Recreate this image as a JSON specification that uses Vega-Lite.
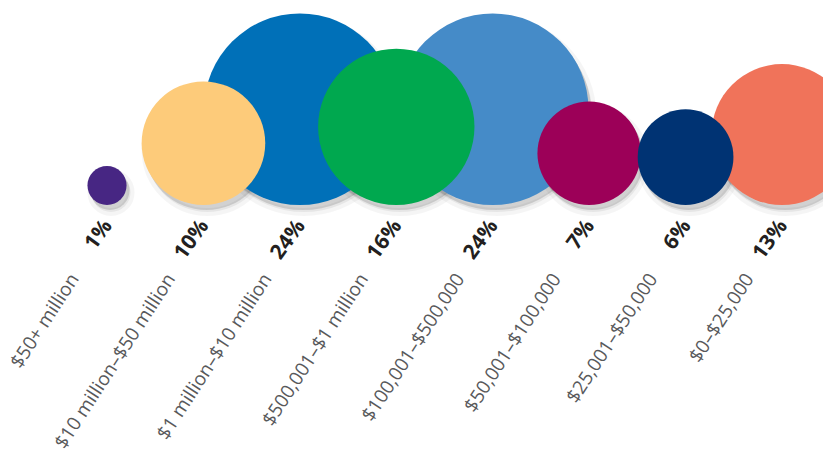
{
  "$schema": "https://vega.github.io/schema/vega-lite/v6.json",
  "width": 823,
  "height": 205,
  "autosize": {"type": "none"},
  "padding": {"left": 0, "top": 0, "right": 0, "bottom": 269},
  "background": "white",
  "config": {"view": {"stroke": null}},
  "data": {
    "values": [
      {"bracket": "$50+ million", "share": 0.01},
      {"bracket": "$10 million–$50 million", "share": 0.10},
      {"bracket": "$1 million–$10 million", "share": 0.24},
      {"bracket": "$500,001–$1 million", "share": 0.16},
      {"bracket": "$100,001–$500,000", "share": 0.24},
      {"bracket": "$50,001–$100,000", "share": 0.07},
      {"bracket": "$25,001–$50,000", "share": 0.06},
      {"bracket": "$0–$25,000", "share": 0.13}
    ]
  },
  "encoding": {
    "x": {
      "field": "bracket",
      "type": "nominal",
      "sort": null,
      "scale": {"type": "point", "range": [74, 749], "padding": 0},
      "axis": {
        "title": null,
        "domain": false,
        "ticks": false,
        "grid": false,
        "labelAngle": -57,
        "labelAlign": "right",
        "labelBaseline": "middle",
        "labelPadding": 70,
        "labelFont": "Open Sans",
        "labelFontSize": 19,
        "labelColor": "#58595b",
        "labelOverlap": false,
        "labelBound": false,
        "labelFlush": false,
        "labelLimit": 0
      }
    }
  },
  "layer": [
    {
      "mark": {"type": "circle", "color": "#000000", "opacity": 1, "fillOpacity": 0.06, "stroke": "#000000", "strokeOpacity": 0.04, "strokeWidth": 8, "xOffset": 37, "yOffset": 7},
      "encoding": {
        "y": {"field": "share", "type": "quantitative", "scale": {"type": "sqrt", "domain": [0, 1.1], "nice": false, "zero": true}, "axis": null},
        "size": {"field": "share", "type": "quantitative", "scale": {"type": "linear", "domain": [0, 1.1], "range": [0, 168100], "zero": true}, "legend": null},
        "order": {"field": "share", "sort": "descending"}
      }
    },
    {
      "mark": {"type": "circle", "color": "#000000", "opacity": 1, "fillOpacity": 0.13, "xOffset": 36, "yOffset": 5},
      "encoding": {
        "y": {"field": "share", "type": "quantitative"},
        "size": {"field": "share", "type": "quantitative"},
        "order": {"field": "share", "sort": "descending"}
      }
    },
    {
      "mark": {"type": "circle", "opacity": 1, "xOffset": 33},
      "encoding": {
        "y": {"field": "share", "type": "quantitative"},
        "size": {"field": "share", "type": "quantitative"},
        "color": {
          "field": "bracket",
          "type": "nominal",
          "sort": null,
          "scale": {
            "domain": ["$50+ million", "$10 million–$50 million", "$1 million–$10 million", "$500,001–$1 million", "$100,001–$500,000", "$50,001–$100,000", "$25,001–$50,000", "$0–$25,000"],
            "range": ["#472683", "#fdcb7a", "#0070b8", "#00a84f", "#458bc8", "#9c0058", "#003373", "#f0735a"]
          },
          "legend": null
        },
        "order": {"field": "share", "sort": "descending"}
      }
    },
    {
      "mark": {"type": "text", "angle": -54, "align": "right", "baseline": "alphabetic", "font": "Open Sans", "fontWeight": "bold", "fontSize": 21, "color": "#231f20", "xOffset": 39, "yOffset": 21},
      "encoding": {
        "y": {"datum": 0, "type": "quantitative"},
        "text": {"field": "share", "type": "quantitative", "format": ".0%"}
      }
    }
  ]
}
